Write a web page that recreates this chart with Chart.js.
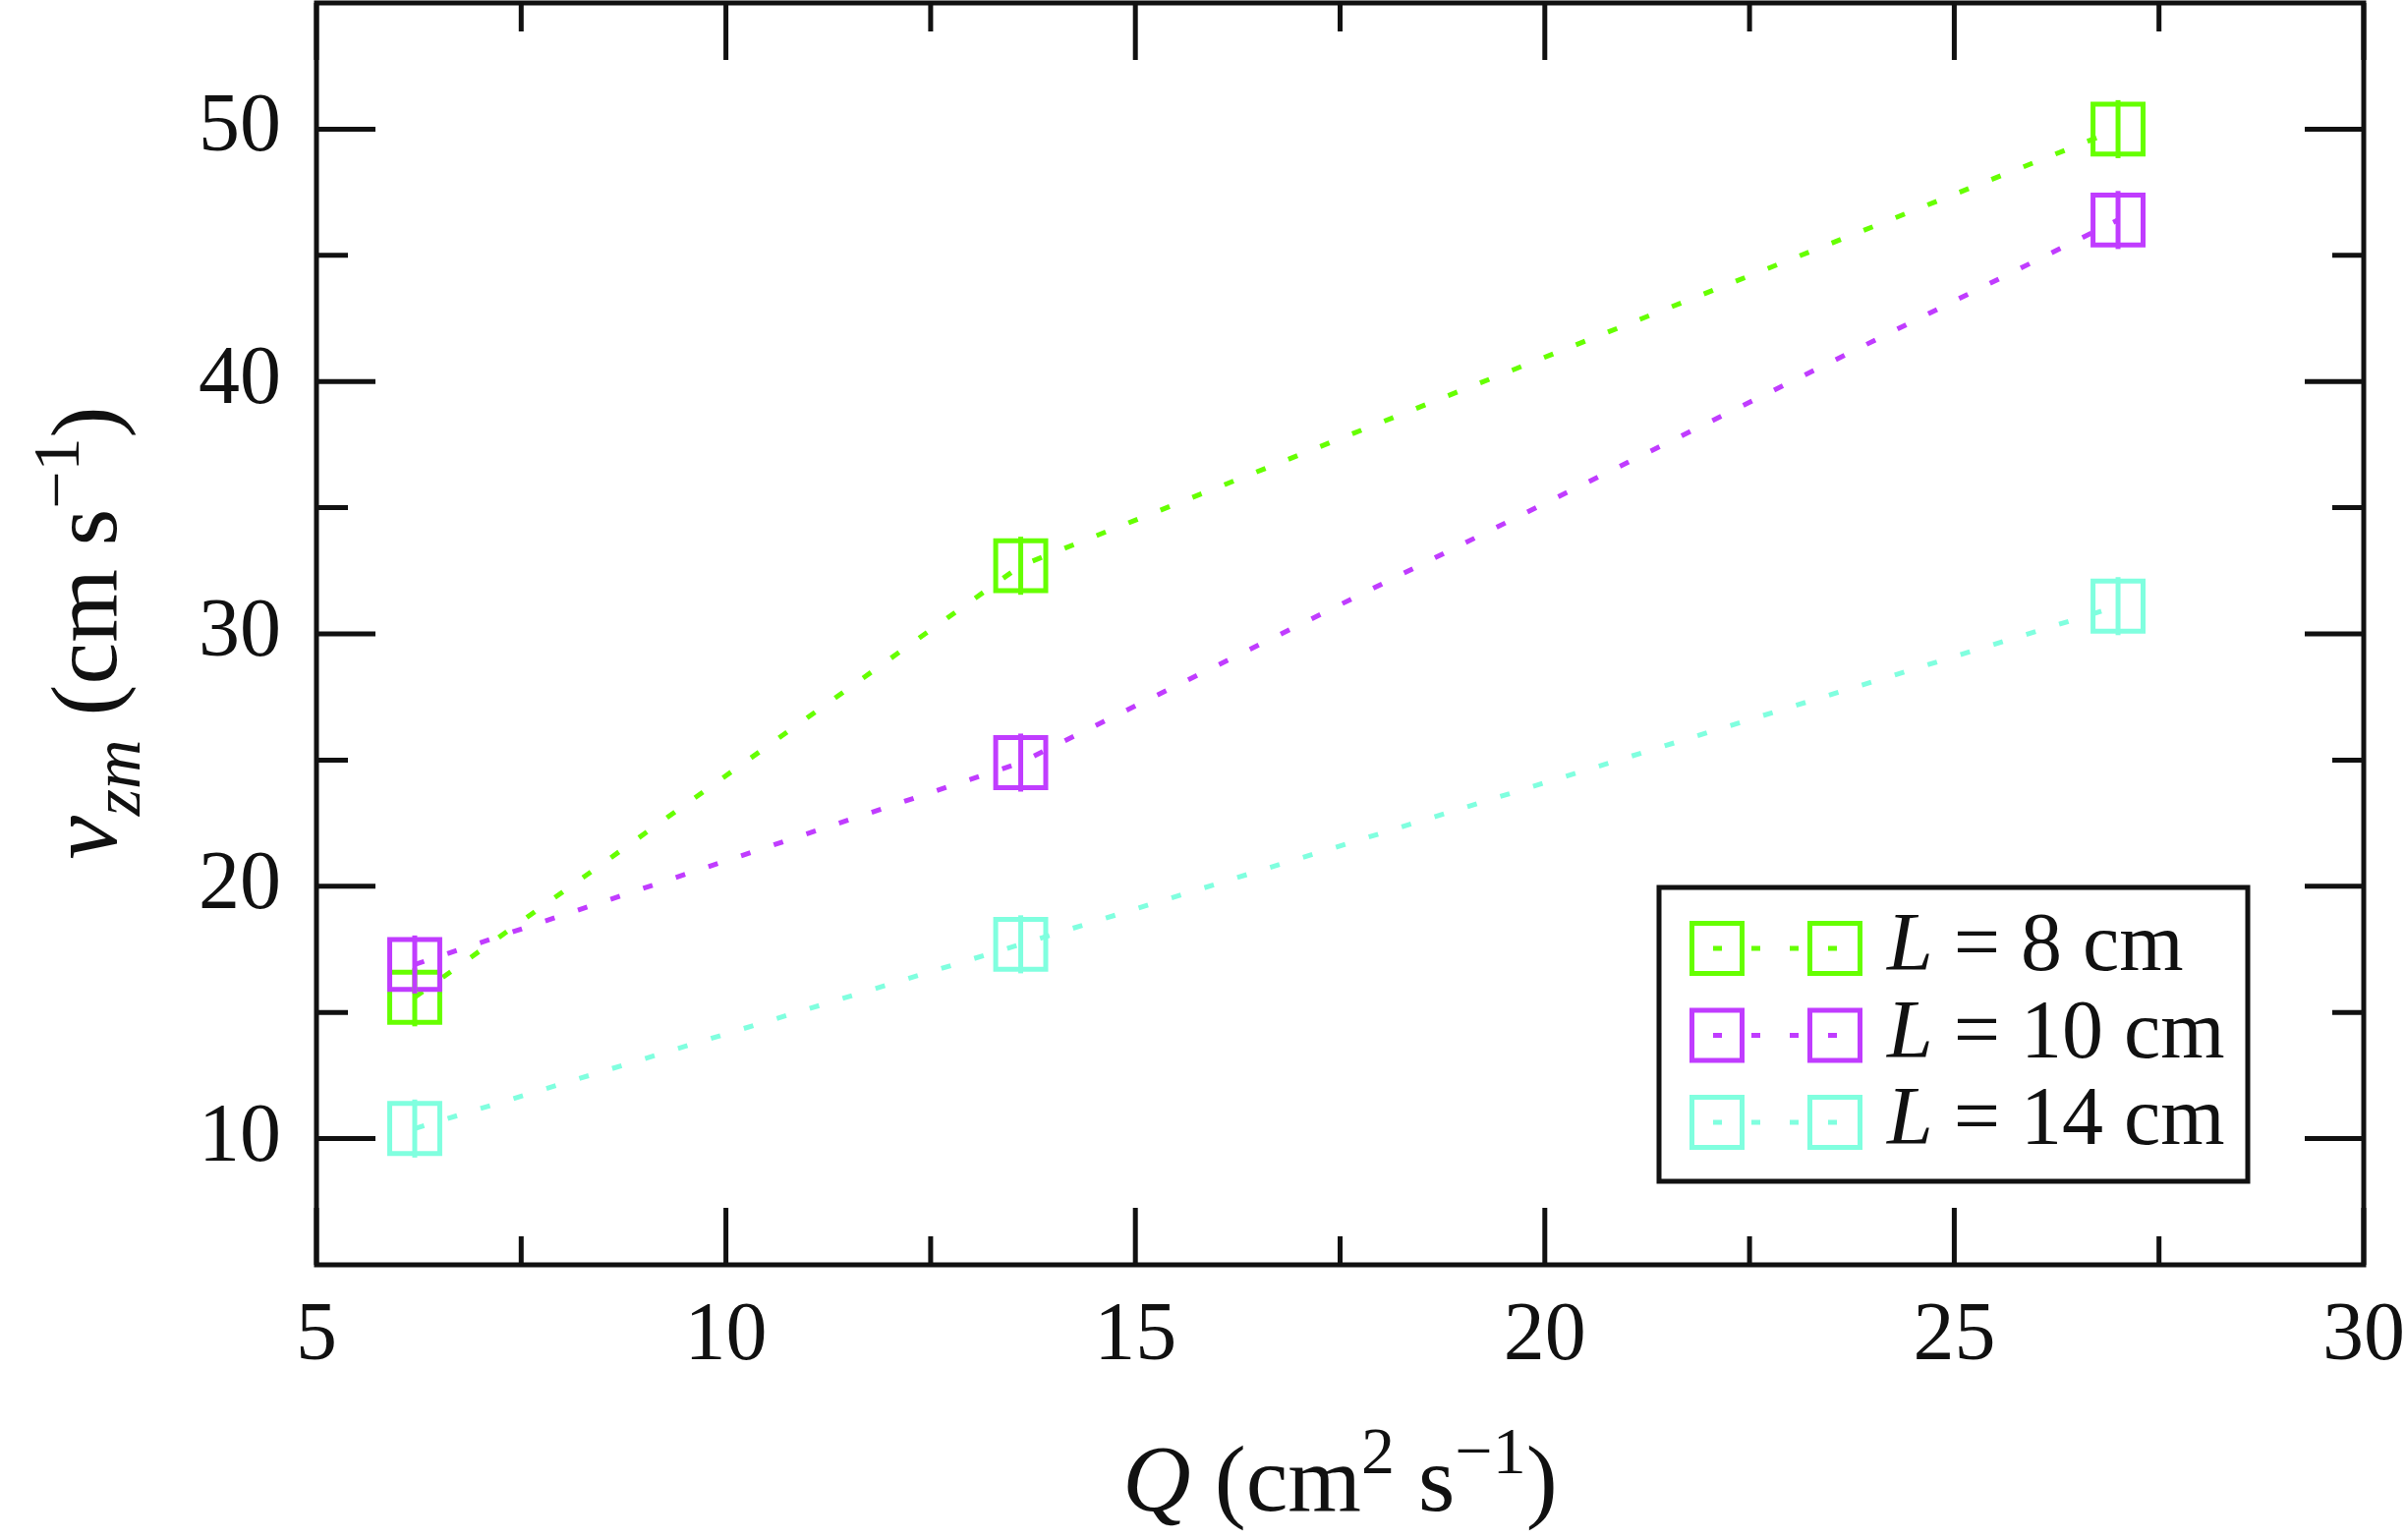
<!DOCTYPE html>
<html>
<head>
<meta charset="utf-8">
<title>v_zm vs Q</title>
<script src="https://cdn.jsdelivr.net/npm/chart.js@4.4.1/dist/chart.umd.min.js"></script>
<style>
  html, body { margin: 0; padding: 0; background: #fff; }
  canvas { display: block; }
</style>
</head>
<body>
<canvas id="myChart" width="2447" height="1567"></canvas>
<script>
// flow rate Q (cm^2 s^-1)
const flowRates = [6.2, 13.6, 27.0];

// v_zm (cm s^-1) for each length L
const vzmL8 = [15.6, 32.7, 50.0];
const vzmL10 = [16.9, 24.9, 46.4];
const vzmL14 = [10.4, 17.7, 31.1];

// error bars (half length, cm s^-1)
const errL8 = [1.15, 1.15, 1.15];
const errL10 = [1.15, 1.15, 1.15];
const errL14 = [1.15, 1.15, 1.15];

const seriesLengths = ['8', '10', '14'];
const seriesColors = ['#66ff00', '#c03cff', '#80ffdf'];

const xTicks = [5, 10, 15, 20, 25, 30];
const yTicks = [10, 20, 30, 40, 50];

const FONT = "'Liberation Serif', 'Times New Roman', serif";
const INK = '#111';

const seriesValues = [vzmL8, vzmL10, vzmL14];
const seriesErrors = [errL8, errL10, errL14];

function minorOf(ticks) {
    const out = [];
    for (let i = 0; i < ticks.length - 1; i++) {
        out.push((ticks[i] + ticks[i + 1]) / 2);
    }
    return out;
}

function richWidth(ctx, parts) {
    let w = 0;
    parts.forEach(p => {
        ctx.font = (p.it ? 'italic ' : '') + p.size + 'px ' + FONT;
        w += ctx.measureText(p.t).width;
    });
    return w;
}

function drawRich(ctx, parts, x, y, align) {
    let cx = align === 'center' ? x - richWidth(ctx, parts) / 2 : x;
    ctx.textBaseline = 'alphabetic';
    ctx.textAlign = 'left';
    parts.forEach(p => {
        ctx.font = (p.it ? 'italic ' : '') + p.size + 'px ' + FONT;
        ctx.fillText(p.t, cx, y + (p.dy || 0));
        cx += ctx.measureText(p.t).width;
    });
}

// frame with inward ticks on all four sides
const framePlugin = {
    id: 'frame',
    afterDraw(chart) {
        const { ctx, chartArea: a, scales } = chart;
        ctx.save();
        ctx.strokeStyle = INK;
        ctx.lineWidth = 5;
        ctx.lineCap = 'butt';
        ctx.strokeRect(a.left, a.top, a.right - a.left, a.bottom - a.top);

        const tick = (v, len, horiz) => {
            if (horiz) {
                const px = scales.x.getPixelForValue(v);
                ctx.beginPath();
                ctx.moveTo(px, a.bottom); ctx.lineTo(px, a.bottom - len);
                ctx.moveTo(px, a.top); ctx.lineTo(px, a.top + len);
                ctx.stroke();
            } else {
                const py = scales.y.getPixelForValue(v);
                ctx.beginPath();
                ctx.moveTo(a.left, py); ctx.lineTo(a.left + len, py);
                ctx.moveTo(a.right, py); ctx.lineTo(a.right - len, py);
                ctx.stroke();
            }
        };
        xTicks.forEach(v => tick(v, 58, true));
        minorOf(xTicks).forEach(v => tick(v, 29, true));
        yTicks.forEach(v => tick(v, 60, false));
        minorOf(yTicks).forEach(v => tick(v, 32, false));
        ctx.restore();
    }
};

// vertical error bars through each box
const errorBarPlugin = {
    id: 'errorBars',
    afterDatasetsDraw(chart) {
        const { ctx, scales } = chart;
        ctx.save();
        ctx.lineWidth = 5;
        seriesValues.forEach((vals, i) => {
            ctx.strokeStyle = seriesColors[i];
            vals.forEach((v, j) => {
                const px = scales.x.getPixelForValue(flowRates[j]);
                ctx.beginPath();
                ctx.moveTo(px, scales.y.getPixelForValue(v + seriesErrors[i][j]));
                ctx.lineTo(px, scales.y.getPixelForValue(v - seriesErrors[i][j]));
                ctx.stroke();
            });
        });
        ctx.restore();
    }
};

// axis titles and the boxed legend
const textPlugin = {
    id: 'texts',
    afterDraw(chart) {
        const { ctx, chartArea: a } = chart;
        ctx.save();
        ctx.fillStyle = INK;

        drawRich(ctx, [
            { t: 'Q', size: 96, it: true },
            { t: ' (cm', size: 96 },
            { t: '2', size: 68, dy: -38 },
            { t: ' s', size: 96 },
            { t: '\u22121', size: 68, dy: -38 },
            { t: ')', size: 96 }
        ], (a.left + a.right) / 2, 1537, 'center');

        ctx.save();
        ctx.translate(118, 644);
        ctx.rotate(-Math.PI / 2);
        drawRich(ctx, [
            { t: 'v', size: 100, it: true },
            { t: 'zm', size: 70, it: true, dy: 24 },
            { t: ' (cm s', size: 96 },
            { t: '\u22121', size: 68, dy: -38 },
            { t: ')', size: 96 }
        ], 0, 0, 'center');
        ctx.restore();

        // legend box
        const box = { right: a.right - 118, top: a.bottom - 384, bottom: a.bottom - 85 };
        box.left = box.right - 599;
        ctx.lineWidth = 5;
        ctx.strokeStyle = INK;
        ctx.fillStyle = '#fff';
        ctx.fillRect(box.left, box.top, box.right - box.left, box.bottom - box.top);
        ctx.strokeRect(box.left, box.top, box.right - box.left, box.bottom - box.top);

        seriesLengths.forEach((len, i) => {
            const cy = box.top + 62 + i * 88.5;
            const m1 = box.left + 59, m2 = box.left + 179;
            ctx.strokeStyle = seriesColors[i];
            ctx.lineWidth = 5;
            ctx.setLineDash([9, 30]);
            ctx.beginPath();
            ctx.moveTo(m1 - 4, cy); ctx.lineTo(m2 + 5, cy);
            ctx.stroke();
            ctx.setLineDash([]);
            [m1, m2].forEach(mx => ctx.strokeRect(mx - 25.5, cy - 25.5, 51, 51));
            ctx.fillStyle = INK;
            drawRich(ctx, [
                { t: 'L', size: 84, it: true },
                { t: ' = ' + len + ' cm', size: 84 }
            ], box.left + 232, cy + 22, 'left');
        });
        ctx.restore();
    }
};

const datasets = seriesValues.map((vals, i) => ({
    label: 'L = ' + seriesLengths[i] + ' cm',
    data: vals.map((v, j) => ({ x: flowRates[j], y: v })),
    borderColor: seriesColors[i],
    backgroundColor: 'rgba(0,0,0,0)',
    borderWidth: 5,
    borderDash: [10, 25],
    tension: 0,
    pointStyle: 'rect',
    pointRadius: 36,
    pointHoverRadius: 36,
    pointBorderWidth: 5,
    pointBorderColor: seriesColors[i],
    pointBackgroundColor: 'rgba(0,0,0,0)',
    order: [1, 0, 2][i],
    clip: false
}));

// transparent tick marks only serve as the gap between axis and labels
const hiddenGrid = len => ({
    display: true,
    drawOnChartArea: false,
    drawTicks: true,
    tickLength: len,
    color: 'rgba(0,0,0,0)'
});

const chart = new Chart(document.getElementById('myChart'), {
    type: 'line',
    data: { datasets },
    options: {
        responsive: false,
        animation: false,
        devicePixelRatio: 1,
        layout: { autoPadding: false, padding: { left: 0, right: 42, top: 3, bottom: 0 } },
        plugins: { legend: { display: false }, tooltip: { enabled: false } },
        scales: {
            x: {
                type: 'linear',
                min: 5,
                max: 30,
                afterBuildTicks: s => { s.ticks = xTicks.map(v => ({ value: v })); },
                afterFit: s => { s.height = 280; s.paddingLeft = 0; s.paddingRight = 0; },
                grid: hiddenGrid(24),
                border: { display: false },
                ticks: { color: INK, padding: 0, maxRotation: 0, font: { family: FONT, size: 84 } }
            },
            y: {
                type: 'linear',
                min: 5,
                max: 55,
                afterBuildTicks: s => { s.ticks = yTicks.map(v => ({ value: v })); },
                afterFit: s => { s.width = 322; s.paddingTop = 0; s.paddingBottom = 0; },
                grid: hiddenGrid(36),
                border: { display: false },
                ticks: { color: INK, padding: 0, font: { family: FONT, size: 84, lineHeight: 0.05 } }
            }
        }
    },
    plugins: [errorBarPlugin, framePlugin, textPlugin]
});
</script>
</body>
</html>
